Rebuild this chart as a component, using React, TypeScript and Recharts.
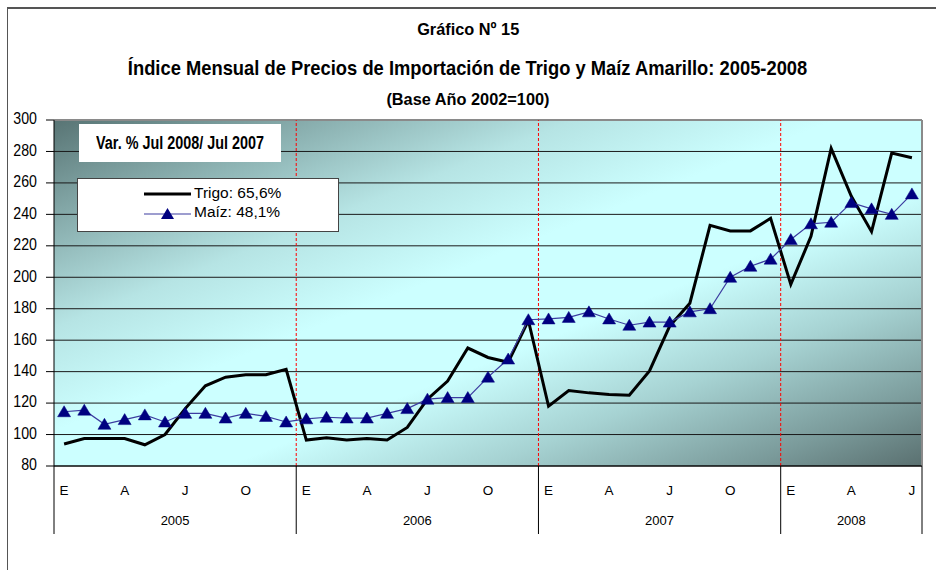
import { LineChart, Line, XAxis, YAxis, CartesianGrid, ReferenceLine } from 'recharts'

const years = ['2005', '2006', '2007', '2008']
const monthLetters = ['E', 'F', 'M', 'A', 'M', 'J', 'J', 'A', 'S', 'O', 'N', 'D']

// Trigo (wheat) monthly import price index, Jan 2005 - Jul 2008
const trigo = [
  94, 97.5, 97.5, 97.5, 93.5, 100, 116.5, 131, 136.5, 138, 138, 141.5,
  96.5, 98, 96.5, 97.5, 96.5, 104.5, 122.5, 134, 155, 149, 146, 172.5,
  118, 128, 126.5, 125.5, 125, 140.5, 169, 183.5, 233, 229.5, 229.5, 237.5,
  195.5, 226, 282, 251.5, 229, 279, 276,
]

// Maíz amarillo (yellow corn)
const maiz = [
  114.5, 115.5, 106.5, 109.5, 112.5, 108, 113.5, 113.5, 110.5, 113.5, 111.5, 108,
  110, 111, 110.5, 110.5, 113.5, 116.5, 122.5, 123.5, 123.5, 136.5, 148, 173,
  173.5, 174.5, 178, 173.5, 169.5, 171.5, 171.5, 178, 180, 200, 207, 211.5,
  224, 234, 235, 247.5, 243.5, 240, 253,
]

const yTicks = [80, 100, 120, 140, 160, 180, 200, 220, 240, 260, 280, 300]

const data = trigo.map((v, i) => ({ x: i + 0.5, trigo: v, maiz: maiz[i] }))

const total = trigo.length
const yearStarts = years.map((_, i) => i * 12)
const boundaries = [...yearStarts, total]
const yearCenters = years.map((_, i) => (boundaries[i] + boundaries[i + 1]) / 2)
const monthTicks = data.filter((_, i) => i % 3 === 0).map((d) => d.x)
const xTicks = Array.from(new Set([...boundaries, ...monthTicks, ...yearCenters])).sort((a, b) => a - b)

const FONT = '"Liberation Sans", Arial, sans-serif'

function XTick(props: any) {
  const { x, y, payload } = props
  const v = payload.value
  const parts: any[] = []
  if (boundaries.includes(v)) {
    parts.push(<line key="sep" x1={x} y1={y} x2={x} y2={y + 68} stroke="#000" strokeWidth={1} />)
  }
  if (monthTicks.includes(v)) {
    const idx = Math.round(v - 0.5)
    parts.push(
      <text key="m" x={x} y={y + 25} textAnchor="middle" dominantBaseline="middle" fontSize={13.5} fontFamily={FONT} fill="#000">
        {monthLetters[idx % 12]}
      </text>
    )
  }
  const yi = yearCenters.indexOf(v)
  if (yi >= 0) {
    parts.push(
      <text key="y" x={x} y={y + 56} textAnchor="middle" dominantBaseline="middle" fontSize={13} fontFamily={FONT} fill="#000">
        {years[yi]}
      </text>
    )
  }
  return <g>{parts}</g>
}

function YTick(props: any) {
  const { x, y, payload } = props
  return (
    <text
      transform={`translate(${x},${y}) scale(0.86,1)`}
      textAnchor="end"
      dominantBaseline="middle"
      fontSize={16.5}
      fontFamily={FONT}
      fill="#000"
    >
      {payload.value}
    </text>
  )
}

function Triangle(props: any) {
  const { cx, cy, index } = props
  if (cx == null || cy == null) return <g key={index} />
  return (
    <polygon
      key={index}
      points={`${cx},${cy - 6} ${cx - 6.5},${cy + 5} ${cx + 6.5},${cy + 5}`}
      fill="#000080"
      stroke="#000080"
      strokeWidth={0.5}
    />
  )
}

function Narrow({ top, size, scale, bold = true, children }: any) {
  return (
    <div style={{ position: 'absolute', left: 0, width: 936, top, textAlign: 'center', fontSize: size, fontWeight: bold ? 'bold' : 'normal', color: '#000', whiteSpace: 'nowrap' }}>
      <span style={{ display: 'inline-block', transform: `scaleX(${scale})` }}>{children}</span>
    </div>
  )
}

export default function App() {
  return (
    <div style={{ position: 'absolute', left: 0, top: 0, width: 936, height: 570, background: '#fff', fontFamily: FONT }}>
      <div style={{ position: 'absolute', left: 7, top: 7, width: 940, height: 570, borderTop: '2px solid #555', borderLeft: '1px solid #555' }} />
      <Narrow top={20} size={17} scale={0.96}>Gráfico Nº 15</Narrow>
      <Narrow top={56} size={20.5} scale={0.895}>
        Índice Mensual de Precios de Importación de Trigo y Maíz Amarillo: 2005-2008
      </Narrow>
      <Narrow top={91} size={16} scale={1.02}>(Base Año 2002=100)</Narrow>
      <div style={{ position: 'absolute', left: 0, top: 0 }}>
        <LineChart width={936} height={570} data={data} margin={{ top: 120, right: 14, bottom: 34, left: 0 }}>
          <defs>
            <linearGradient id="plotBg" x1="0" y1="0" x2="1" y2="1">
              <stop offset="0" stopColor="#587474" />
              <stop offset="0.15" stopColor="#88adad" />
              <stop offset="0.3" stopColor="#b6e4e4" />
              <stop offset="0.45" stopColor="#ccffff" />
              <stop offset="0.6" stopColor="#ccffff" />
              <stop offset="0.75" stopColor="#a6d2d2" />
              <stop offset="0.9" stopColor="#7a9a9a" />
              <stop offset="1" stopColor="#5a7070" />
            </linearGradient>
          </defs>
          <CartesianGrid horizontal vertical={false} stroke="#1a1a1a" fill="url(#plotBg)" fillOpacity={1} />
          <XAxis
            dataKey="x"
            type="number"
            domain={[0, total]}
            ticks={xTicks}
            interval={0}
            tick={<XTick />}
            tickLine={false}
            tickSize={0}
            tickMargin={0}
            height={70}
            stroke="#000"
            allowDataOverflow
          />
          <YAxis
            type="number"
            domain={[80, 300]}
            ticks={yTicks}
            interval={0}
            width={54}
            tickSize={8}
            tickMargin={9}
            stroke="#000"
            tick={<YTick />}
          />
          <ReferenceLine y={300} stroke="#8a8a8a" strokeWidth={2} />
          <ReferenceLine x={total} stroke="#8a8a8a" strokeWidth={2} />
          {yearStarts.slice(1).map((b) => (
            <ReferenceLine key={b} x={b} stroke="#ff0000" strokeDasharray="3 2" strokeWidth={1} />
          ))}
          <Line type="linear" dataKey="trigo" stroke="#000" strokeWidth={3} dot={false} isAnimationActive={false} />
          <Line
            type="linear"
            dataKey="maiz"
            stroke="#3c3ca0"
            strokeWidth={1.2}
            dot={(p: any) => <Triangle key={p.index} {...p} />}
            isAnimationActive={false}
          />
        </LineChart>
      </div>
      <div
        style={{
          position: 'absolute', left: 79, top: 124, width: 202, height: 38, background: '#fff',
          display: 'flex', alignItems: 'center', justifyContent: 'center', fontWeight: 'bold', fontSize: 18, color: '#000', whiteSpace: 'nowrap',
        }}
      >
        <span style={{ display: 'inline-block', transform: 'scaleX(0.8)' }}>Var. % Jul 2008/ Jul 2007</span>
      </div>
      <div
        style={{
          position: 'absolute', left: 77, top: 178, width: 260, height: 52, background: '#fff',
          border: '1.5px solid #444', fontSize: 15, color: '#000',
        }}
      >
        <svg width={260} height={52} style={{ position: 'absolute', left: 0, top: 0 }}>
          <line x1={66} y1={15} x2={113} y2={15} stroke="#000" strokeWidth={3} />
          <text x={116} y={15} dominantBaseline="middle" fontSize={15.5} fontFamily={FONT} fill="#000">Trigo: 65,6%</text>
          <line x1={66} y1={35} x2={113} y2={35} stroke="#3c3ca0" strokeWidth={1.2} />
          <polygon points="89.5,29 83,40 96,40" fill="#000080" />
          <text x={116} y={34} dominantBaseline="middle" fontSize={15.5} fontFamily={FONT} fill="#000">Maíz: 48,1%</text>
        </svg>
      </div>
    </div>
  )
}
